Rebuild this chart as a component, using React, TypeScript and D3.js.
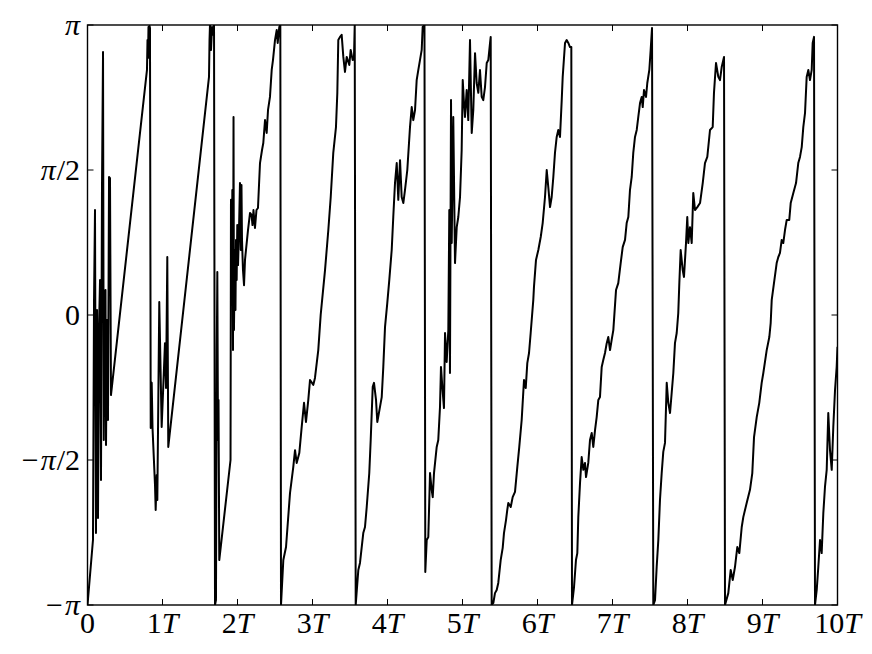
import React from "react";
import * as d3 from "d3";

// time in units of T, phase in units of π
const segA: [number, number][] = [
  [0, -1], [0.073, -0.776], [0.087, 0.052], [0.1, 0.362], [0.113, -0.752], [0.127, 0.017],
  [0.14, -0.7], [0.153, -0.052], [0.167, 0.121], [0.18, -0.569], [0.193, 0.431], [0.207, 0.907],
  [0.217, -0.431], [0.227, 0.052], [0.24, 0.086], [0.247, -0.448], [0.26, -0.017], [0.273, -0.362],
  [0.287, 0.476], [0.3, 0.472], [0.313, -0.276], [0.793, 0.845], [0.8, 0.948], [0.807, 0.886],
  [0.813, 0.993], [0.82, 0.914], [0.827, 0.997], [0.833, 0.99],
  [0.843, -0.39], [0.856, -0.234], [0.867, -0.39], [0.9, -0.586], [0.909, -0.672], [0.923, -0.552],
  [0.931, -0.638], [0.957, 0.045], [0.989, -0.386], [1.033, -0.097], [1.047, -0.252], [1.064, 0.2],
  [1.077, -0.455], [1.62, 0.821], [1.627, 0.948], [1.633, 1.0], [1.647, 0.914], [1.66, 0.993],
  [1.673, 0.966], [1.687, 1.0],
];

const segB: [number, number][] = [
  [1.7, -1], [1.713, -0.983], [1.724, -0.121], [1.731, 0.148], [1.74, -0.431], [1.747, -0.293],
  [1.757, -0.845], [1.907, -0.5], [1.913, 0.397], [1.923, 0.052], [1.931, 0.431], [1.94, -0.121],
  [1.947, 0.683], [1.953, -0.052], [1.964, 0.224], [1.973, 0.017], [1.98, 0.259], [1.989, 0.121],
  [1.997, 0.31], [2.007, 0.172], [2.02, 0.293], [2.033, 0.455], [2.044, 0.224], [2.053, 0.448],
  [2.06, 0.259], [2.073, 0.155], [2.087, 0.103], [2.1, 0.19], [2.113, 0.224], [2.14, 0.293],
  [2.167, 0.352], [2.187, 0.345], [2.2, 0.31], [2.213, 0.362], [2.233, 0.3], [2.253, 0.362],
  [2.273, 0.369], [2.3, 0.524], [2.327, 0.569], [2.344, 0.593], [2.367, 0.672], [2.389, 0.628],
  [2.407, 0.707], [2.433, 0.752], [2.456, 0.845], [2.473, 0.879], [2.5, 0.948], [2.523, 0.983],
  [2.536, 0.938], [2.557, 0.993], [2.571, 1.0],
];

const segC: [number, number][] = [
  [2.58, -1], [2.611, -0.845], [2.647, -0.8], [2.7, -0.614], [2.744, -0.524], [2.767, -0.466],
  [2.789, -0.51], [2.824, -0.476], [2.856, -0.386], [2.887, -0.303], [2.913, -0.369], [2.944, -0.293],
  [2.967, -0.224], [3.011, -0.241], [3.033, -0.217], [3.077, -0.121], [3.109, 0.0], [3.167, 0.155],
  [3.211, 0.293], [3.243, 0.407], [3.277, 0.559], [3.313, 0.648], [3.331, 0.766], [3.344, 0.948],
  [3.367, 0.959], [3.389, 0.966], [3.411, 0.89], [3.433, 0.838], [3.456, 0.89], [3.491, 0.862],
  [3.509, 0.914], [3.536, 0.879], [3.553, 0.89], [3.563, 1.0],
];

const segD: [number, number][] = [
  [3.576, -1], [3.611, -0.879], [3.633, -0.855], [3.677, -0.752], [3.7, -0.731], [3.723, -0.662],
  [3.757, -0.545], [3.776, -0.431], [3.803, -0.248], [3.82, -0.234], [3.847, -0.293], [3.864, -0.369],
  [3.9, -0.317], [3.923, -0.283], [3.944, -0.179], [3.967, -0.041], [3.997, 0.041], [4.024, 0.121],
  [4.056, 0.224], [4.077, 0.338], [4.1, 0.455], [4.123, 0.524], [4.144, 0.397], [4.167, 0.534],
  [4.189, 0.407], [4.211, 0.386], [4.233, 0.431], [4.264, 0.5], [4.3, 0.648], [4.323, 0.717],
  [4.344, 0.672], [4.367, 0.707], [4.389, 0.81], [4.411, 0.845], [4.433, 0.879], [4.456, 0.914],
  [4.469, 0.993], [4.493, 1.0],
];

const segE: [number, number][] = [
  [4.504, -0.886], [4.523, -0.776], [4.544, -0.766], [4.567, -0.545], [4.589, -0.603], [4.603, -0.628],
  [4.62, -0.545], [4.656, -0.455], [4.677, -0.431], [4.7, -0.317], [4.713, -0.179], [4.731, -0.248],
  [4.753, -0.321], [4.767, -0.062], [4.789, -0.162], [4.811, -0.052], [4.824, 0.362], [4.833, -0.2],
  [4.847, 0.741], [4.856, 0.248], [4.877, 0.683], [4.9, 0.179], [4.923, 0.303], [4.944, 0.338],
  [4.967, 0.407], [4.989, 0.569], [5.003, 0.81], [5.02, 0.731], [5.033, 0.683], [5.056, 0.776],
  [5.077, 0.672], [5.1, 0.948], [5.123, 0.628], [5.144, 0.707], [5.167, 0.903], [5.189, 0.8],
  [5.211, 0.766], [5.233, 0.845], [5.256, 0.752], [5.277, 0.741], [5.3, 0.786], [5.323, 0.869],
  [5.344, 0.879], [5.367, 0.938], [5.376, 0.959],
];

const segF: [number, number][] = [
  [5.389, -1], [5.411, -0.993], [5.433, -0.959], [5.456, -0.948], [5.477, -0.924], [5.509, -0.845],
  [5.536, -0.803], [5.553, -0.752], [5.58, -0.707], [5.597, -0.672], [5.611, -0.648], [5.643, -0.662],
  [5.669, -0.628], [5.7, -0.61], [5.731, -0.524], [5.757, -0.455], [5.789, -0.362], [5.82, -0.224],
  [5.843, -0.252], [5.864, -0.166], [5.887, -0.131], [5.909, -0.062], [5.944, 0.052], [5.953, 0.097],
  [5.98, 0.19], [6.011, 0.224], [6.043, 0.269], [6.069, 0.317], [6.1, 0.407], [6.123, 0.5],
  [6.144, 0.441], [6.167, 0.372], [6.189, 0.407], [6.211, 0.476], [6.233, 0.559], [6.256, 0.614],
  [6.277, 0.638], [6.3, 0.614], [6.323, 0.741], [6.336, 0.821], [6.367, 0.938], [6.389, 0.948],
  [6.411, 0.938], [6.433, 0.924], [6.451, 0.924],
];

const segG: [number, number][] = [
  [6.46, -1], [6.487, -0.938], [6.513, -0.845], [6.531, -0.821], [6.544, -0.697], [6.567, -0.579],
  [6.589, -0.49], [6.611, -0.534], [6.633, -0.51], [6.647, -0.559], [6.677, -0.51], [6.7, -0.431],
  [6.723, -0.407], [6.744, -0.455], [6.767, -0.397], [6.789, -0.352], [6.811, -0.293], [6.833, -0.283],
  [6.856, -0.179], [6.877, -0.155], [6.9, -0.131], [6.923, -0.097], [6.944, -0.076], [6.967, -0.121],
  [6.989, -0.086], [7.011, -0.052], [7.047, 0.086], [7.077, 0.11], [7.109, 0.179], [7.136, 0.234],
  [7.167, 0.259], [7.189, 0.317], [7.211, 0.338], [7.233, 0.431], [7.256, 0.476], [7.277, 0.559],
  [7.3, 0.614], [7.323, 0.638], [7.344, 0.683], [7.367, 0.731], [7.389, 0.752], [7.403, 0.717],
  [7.42, 0.776], [7.447, 0.752], [7.464, 0.8], [7.491, 0.845], [7.509, 0.914], [7.527, 0.99],
];

const segH: [number, number][] = [
  [7.544, -1], [7.567, -0.983], [7.589, -0.869], [7.611, -0.776], [7.633, -0.638], [7.656, -0.545],
  [7.677, -0.472], [7.7, -0.441], [7.723, -0.234], [7.744, -0.303], [7.767, -0.338], [7.789, -0.269],
  [7.811, -0.2], [7.833, -0.097], [7.856, -0.062], [7.877, 0.007], [7.891, 0.11], [7.909, 0.224],
  [7.936, 0.155], [7.953, 0.131], [7.98, 0.248], [7.997, 0.338], [8.011, 0.248], [8.033, 0.303],
  [8.056, 0.248], [8.077, 0.421], [8.1, 0.362], [8.131, 0.372], [8.167, 0.386], [8.203, 0.455],
  [8.233, 0.524], [8.264, 0.545], [8.3, 0.638], [8.336, 0.648], [8.353, 0.766], [8.38, 0.869],
  [8.411, 0.821], [8.433, 0.81], [8.456, 0.855], [8.487, 0.89],
];

const segI: [number, number][] = [
  [8.5, -1], [8.544, -0.959], [8.576, -0.879], [8.603, -0.914], [8.633, -0.869], [8.664, -0.8],
  [8.691, -0.821], [8.723, -0.731], [8.744, -0.697], [8.789, -0.648], [8.833, -0.603], [8.864, -0.545],
  [8.887, -0.421], [8.923, -0.352], [8.957, -0.303], [8.989, -0.234], [9.011, -0.2], [9.056, -0.121],
  [9.091, -0.076], [9.109, -0.028], [9.123, 0.052], [9.153, 0.11], [9.189, 0.179], [9.211, 0.2],
  [9.233, 0.214], [9.256, 0.259], [9.277, 0.248], [9.3, 0.293], [9.323, 0.328], [9.357, 0.328],
  [9.376, 0.386], [9.411, 0.421], [9.447, 0.455], [9.477, 0.524], [9.5, 0.545], [9.523, 0.579],
  [9.544, 0.648], [9.567, 0.697], [9.589, 0.821], [9.611, 0.845], [9.633, 0.81], [9.656, 0.845],
  [9.669, 0.938], [9.687, 0.959],
];

const segJ: [number, number][] = [
  [9.7, -1], [9.723, -0.948], [9.744, -0.869], [9.767, -0.776], [9.789, -0.821], [9.811, -0.683],
  [9.833, -0.593], [9.856, -0.534], [9.877, -0.338], [9.9, -0.466], [9.923, -0.534], [9.944, -0.386],
  [9.967, -0.259], [9.989, -0.179], [10.0, -0.11],
];

const xTicks = [0, 1, 2, 3, 4, 5, 6, 7, 8, 9, 10];
const yTicks = [-1, -0.5, 0, 0.5, 1];
const yTickLabels = [
  ["−", "π", ""],
  ["−", "π", "/2"],
  ["", "", "0"],
  ["", "π", "/2"],
  ["", "π", ""],
];

export default function App() {
  const W = 872, H = 654;
  const x = d3.scaleLinear().domain([0, 10]).range([87.5, 837.5]);
  const y = d3.scaleLinear().domain([-1, 1]).range([605, 25]);
  const data = [...segA, ...segB, ...segC, ...segD, ...segE, ...segF, ...segG, ...segH, ...segI, ...segJ];
  const line = d3.line<[number, number]>().x(d => x(d[0])).y(d => y(d[1]));
  const font = "'Liberation Serif', 'DejaVu Serif', serif";
  const fs = 30;
  const tl = 6;
  const [x0, x1] = x.range();
  const [y0, y1] = y.range();
  return (
    <svg width={W} height={H} style={{ position: "absolute", left: 0, top: 0, background: "#fff" }}>
      <defs>
        <clipPath id="plotclip">
          <rect x={x0} y={y1} width={x1 - x0} height={y0 - y1} />
        </clipPath>
      </defs>
      <rect x={0} y={0} width={W} height={H} fill="#fff" />
      <path d={line(data) || ""} fill="none" stroke="#000" strokeWidth={2} strokeLinejoin="round" clipPath="url(#plotclip)" />
      {xTicks.map(t => (
        <g key={"xt" + t}>
          <line x1={x(t)} x2={x(t)} y1={y0} y2={y0 - tl} stroke="#000" strokeWidth={1} />
          <line x1={x(t)} x2={x(t)} y1={y1} y2={y1 + tl} stroke="#000" strokeWidth={1} />
          <text x={x(t)} y={633} textAnchor="middle" fontFamily={font} fontSize={fs}>
            {t === 0 ? "0" : (
              <>
                <tspan>{t}</tspan>
                <tspan fontStyle="italic">T</tspan>
              </>
            )}
          </text>
        </g>
      ))}
      {yTicks.map((v, i) => (
        <g key={"yt" + v}>
          <line x1={x0} x2={x0 + tl} y1={y(v)} y2={y(v)} stroke="#000" strokeWidth={1} />
          <line x1={x1} x2={x1 - tl} y1={y(v)} y2={y(v)} stroke="#000" strokeWidth={1} />
          <text x={80} y={y(v) + 9.5} textAnchor="end" fontFamily={font} fontSize={fs}>
            {yTickLabels[i][0] && <tspan>{yTickLabels[i][0]}</tspan>}
            {yTickLabels[i][1] && <tspan fontStyle="italic" dx={yTickLabels[i][0] ? 2 : 0}>{yTickLabels[i][1]}</tspan>}
            {yTickLabels[i][2] && <tspan dx={yTickLabels[i][1] ? 1 : 0}>{yTickLabels[i][2]}</tspan>}
          </text>
        </g>
      ))}
      <rect x={x0} y={y1} width={x1 - x0} height={y0 - y1} fill="none" stroke="#000" strokeWidth={1.4} />
    </svg>
  );
}
